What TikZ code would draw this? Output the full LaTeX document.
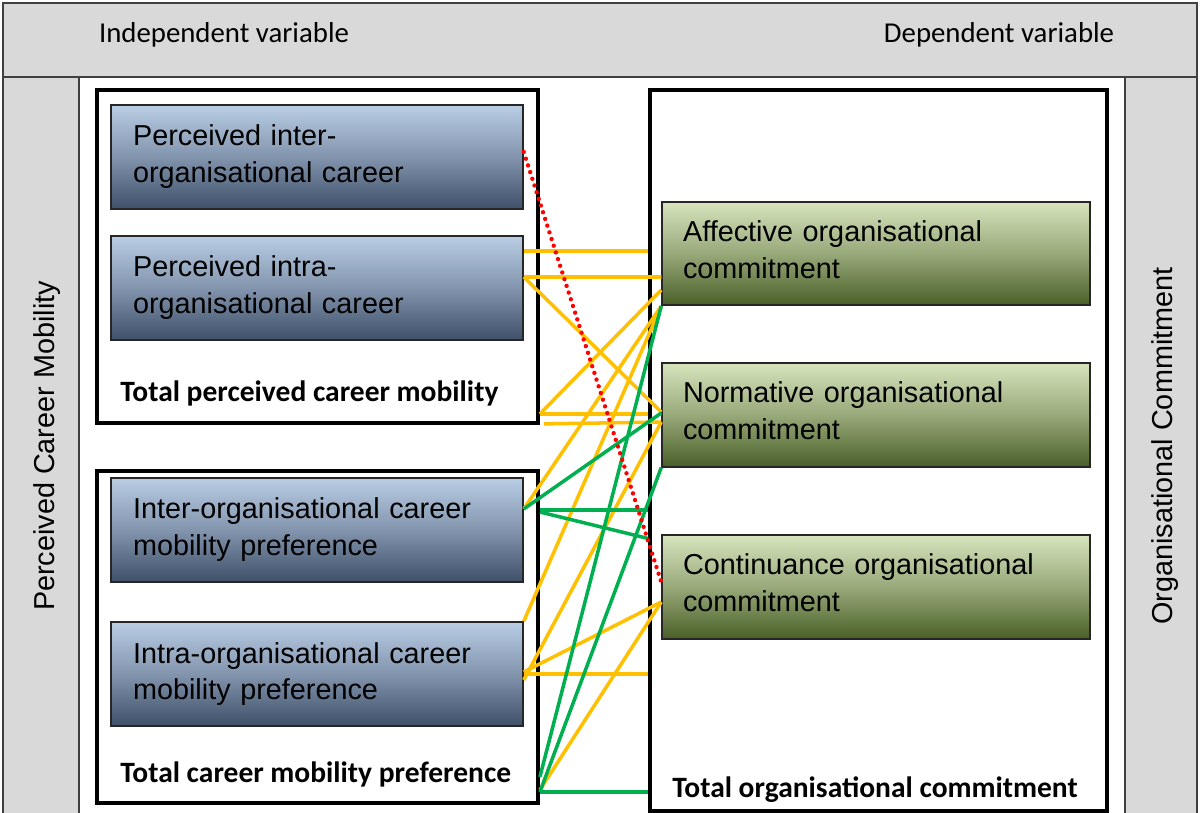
\documentclass[tikz,border=0pt]{standalone}
\usepackage{fontspec}
\setmainfont{Liberation Sans}
\newfontfamily\calibri{Carlito}
\usetikzlibrary{calc}

\definecolor{barGray}{HTML}{D9D9D9}
\definecolor{blueTop}{HTML}{B9CDE5}
\definecolor{blueBot}{HTML}{3F5069}
\definecolor{greenTop}{HTML}{D7E4BD}
\definecolor{greenBot}{HTML}{4A6028}
\definecolor{lineGold}{HTML}{FFC000}
\definecolor{lineGreen}{HTML}{00B050}

\newcommand{\boxfont}{\fontsize{16.4}{21}\selectfont}
\newcommand{\labfont}{\calibri\fontsize{16.4}{20}\selectfont}

\tikzset{
    bar/.style={draw=black!75, line width=0.7pt, fill=barGray},
    frame/.style={draw=black, line width=2.2pt, fill=white, inner sep=0pt},
    indbox/.style={draw=black!85, line width=0.9pt, top color=blueTop, bottom color=blueBot,
        middle color=blueTop!55!blueBot, minimum height=2.08cm, text width=7.36cm,
        inner xsep=0.44cm, inner ysep=0pt, align=left, font=\boxfont},
    depbox/.style={draw=black!85, line width=0.9pt, top color=greenTop, bottom color=greenBot,
        middle color=greenTop!55!greenBot, minimum height=2.07cm, text width=7.72cm,
        inner xsep=0.42cm, inner ysep=0pt, align=left, font=\boxfont},
    totlabel/.style={font=\calibri\fontsize{16.8}{20}\selectfont\bfseries, inner sep=0pt, anchor=base west},
    barlabel/.style={font=\labfont, inner sep=0pt, anchor=base},
    sidelabel/.style={font=\boxfont, inner sep=0pt, anchor=base, rotate=90},
    yline/.style={draw=lineGold, line width=2pt},
    gline/.style={draw=lineGreen, line width=2pt},
    rline/.style={draw=red, line width=2.5pt, line cap=round, dash pattern=on 0pt off 4pt},
}

\newcommand{\drawindvar}[3]{
    \node [indbox] (#1) at (#2) {#3};
}
\newcommand{\drawdepvar}[3]{
    \node [depbox] (#1) at (#2) {#3\vspace{4.5pt}};
}

\begin{document}
\begin{tikzpicture}[x=0.02cm, y=-0.02cm]
    \fill [white] (0,0) rectangle (1200,813);
    \useasboundingbox (0,0) rectangle (1200,813);

    % grey bars
    \draw [bar] (3,3) rectangle (1197,77);
    \draw [bar] (3,77) rectangle (79,816);
    \draw [bar] (1125,77) rectangle (1197,816);
    \node [barlabel] (indvar) at (224,43) {Independent variable};
    \node [barlabel] (depvar) at (999,43) {Dependent variable};
    \node [sidelabel] (pcmside) at (54,446) {Perceived Career Mobility};
    \node [sidelabel] (ocside) at (1172,446) {Organisational Commitment};

    % frames
    \node [frame, minimum width=8.82cm, minimum height=6.66cm] (tpcm) at (317.5,256.5) {};
    \node [frame, minimum width=8.82cm, minimum height=6.64cm] (tcmp) at (317.5,637) {};
    \node [frame, minimum width=9.14cm, minimum height=14.42cm] (toc) at (878.5,450.5) {};
    \node [totlabel] (tpcmlab) at (120,402) {Total perceived career mobility};
    \node [totlabel] (tcmplab) at (120,782) {Total career mobility preference};
    \node [totlabel] (toclab) at (672,797) {Total organisational commitment};

    % variables
    \drawindvar{pici}{317,157}{Perceived inter-\\organisational career}
    \drawindvar{pica}{317,288}{Perceived intra-\\organisational career}
    \drawindvar{cmpe}{317,530}{Inter-organisational career\\mobility preference}
    \drawindvar{cmpa}{317,674}{Intra-organisational career\\mobility preference}
    \drawdepvar{aoc}{876,253.5}{Affective organisational\\commitment}
    \drawdepvar{noc}{876,415}{Normative organisational\\commitment}
    \drawdepvar{coc}{876,587}{Continuance organisational\\commitment}

    % links
    \draw [yline] ($(pica.east)+(0,-37)$) -- ($(pica.east -| toc.west)+(0,-37)$);
    \draw [yline] ($(pica.east)+(0,-11)$) -- ($(aoc.west)+(0,23.5)$);
    \draw [yline] ($(pica.east)+(0,-11)$) -- ($(noc.west)+(0,-3)$);
    \draw [yline] ($(tpcm.south east)+(0,-11)$) -- ($(aoc.west)+(0,36.5)$);
    \draw [yline] ($(tpcm.south east)+(0,-11)$) -- ($(tpcm.south east -| toc.west)+(0,-11)$);
    \draw [yline] ($(tpcm.south east)+(4,-1)$) -- ($(noc.west)+(0,7)$);
    \draw [yline] ($(cmpe.east)+(0,-21)$) -- (aoc.south west);
    \draw [yline] (cmpa.north east) -- (aoc.south west);
    \draw [yline] ($(cmpa.east)+(0,-2)$) -- ($(coc.west)+(0,15)$);
    \draw [yline] (cmpa.east) -- (cmpa.east -| toc.west);
    \draw [yline] ($(cmpa.east)+(0,6)$) -- ($(noc.west)+(0,7)$);
    \draw [yline] ($(tcmp.south east)+(0,-15)$) -- ($(coc.west)+(0,15)$);
    \draw [gline] ($(cmpe.east)+(0,-21)$) -- ($(noc.west)+(0,-2)$);
    \draw [gline] ($(cmpe.east -| tcmp.east)+(0,-20)$) -- ($(cmpe.east -| toc.west)+(0,-20)$);
    \draw [gline] ($(cmpe.east -| tcmp.east)+(0,-18)$) -- ($(coc.north west -| toc.west)+(0,4)$);
    \draw [gline] ($(tcmp.south east)+(0,-28)$) -- (aoc.south west);
    \draw [gline] ($(tcmp.south east)+(0,-13)$) -- (noc.south west);
    \draw [gline] ($(tcmp.south east)+(0,-13)$) -- ($(tcmp.south east -| toc.west)+(0,-13)$);
    \draw [rline] ($(pici.east)+(0,-5)$) -- ($(coc.west)+(0,-5)$);
\end{tikzpicture}
\end{document}
